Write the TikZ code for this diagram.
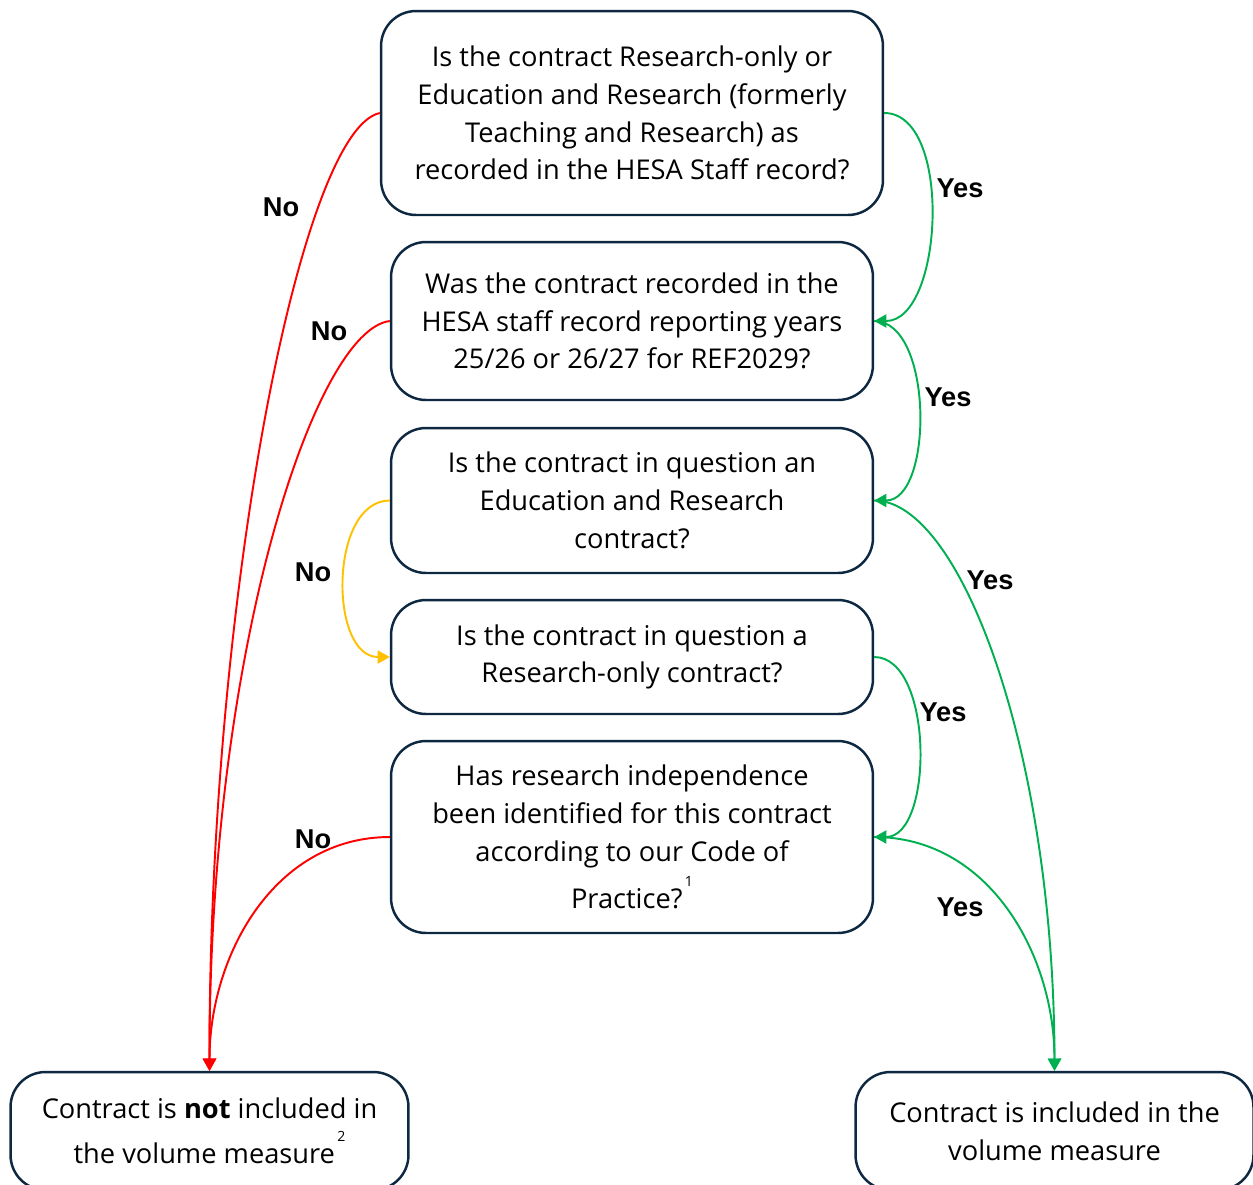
\documentclass[tikz,border=0pt]{standalone}
\usepackage{fontspec}
\setmainfont{Liberation Sans}
\newfontfamily\boxfont{Open Sans}
\usetikzlibrary{arrows.meta}
\definecolor{boxline}{HTML}{0E2841}
\definecolor{nored}{HTML}{FF0000}
\definecolor{yesgreen}{HTML}{00B050}
\definecolor{noamber}{HTML}{FFC000}
\newcommand{\fnmark}[1]{\raisebox{1.5ex}{\fontsize{8pt}{8pt}\selectfont\,#1}}
\begin{document}
\begin{tikzpicture}
[x=0.02cm,y=-0.02cm,
question/.style={rectangle,rounded corners=0.7cm,draw=boxline,line width=1.4pt,fill=white,
  align=center,inner sep=0pt,minimum width=9.64cm,
  font=\boxfont\fontsize{15.5pt}{21.5pt}\selectfont},
outcome/.style={question,minimum width=7.96cm,minimum height=2.36cm},
answer/.style={font=\fontsize{15.5pt}{18pt}\selectfont\bfseries},
flow/.style={line width=1.1pt,-{Triangle[length=7pt,width=7.5pt]}},
noflow/.style={flow,draw=nored},
yesflow/.style={flow,draw=yesgreen},
maybeflow/.style={flow,draw=noamber}
]
\useasboundingbox (0,0) rectangle (1253,1184);

% questions
\node[question,minimum width=10.04cm,minimum height=4.08cm] (contract) at (632,113)
  {Is the contract Research-only or\\Education and Research (formerly\\Teaching and Research) as\\recorded in the HESA Staff record?};
\node[question,minimum height=3.16cm] (years) at (632,321)
  {Was the contract recorded in the\\HESA staff record reporting years\\25/26 or 26/27 for REF2029?};
\node[question,minimum height=2.9cm] (edures) at (632,500.5)
  {Is the contract in question an\\Education and Research\\contract?};
\node[question,minimum height=2.28cm] (resonly) at (632,657)
  {Is the contract in question a\\Research-only contract?};
\node[question,minimum height=3.84cm] (indep) at (632,837)
  {Has research independence\\been identified for this contract\\according to our Code of\\[4pt]Practice?\fnmark{1}};

% outcomes
\node[outcome] (excluded) at (209.5,1131)
  {Contract is \textbf{not} included in\\[4pt]the volume measure\fnmark{2}};
\node[outcome] (included) at (1054.5,1131)
  {Contract is included in the\\volume measure};

% no branches
\draw[noflow] (contract.west) .. controls (300,130) and (209,600) .. (excluded.north);
\draw[noflow] (years.west) .. controls (315,330) and (209,650) .. (excluded.north);
\draw[noflow] (indep.west) to[out=180,in=90] (excluded.north);
\draw[maybeflow] (edures.west) to[out=180,in=180] (resonly.west);

% yes branches
\draw[yesflow] (contract.east) to[out=0,in=0,looseness=0.85] (years.east);
\draw[yesflow] (years.east) to[out=0,in=0,looseness=0.85] (edures.east);
\draw[yesflow] (edures.east) .. controls (960,500) and (1054,750) .. (included.north);
\draw[yesflow] (resonly.east) to[out=0,in=0,looseness=0.85] (indep.east);
\draw[yesflow] (indep.east) to[out=0,in=90] (included.north);

% labels
\node[answer] (no1) at (281,207) {No};
\node[answer] (no2) at (329,331) {No};
\node[answer] (no3) at (313,572) {No};
\node[answer] (no4) at (313,839) {No};
\node[answer] (yes1) at (960,188) {Yes};
\node[answer] (yes2) at (948,397) {Yes};
\node[answer] (yes3) at (990,580) {Yes};
\node[answer] (yes4) at (943,712) {Yes};
\node[answer] (yes5) at (960,907) {Yes};
\end{tikzpicture}
\end{document}
